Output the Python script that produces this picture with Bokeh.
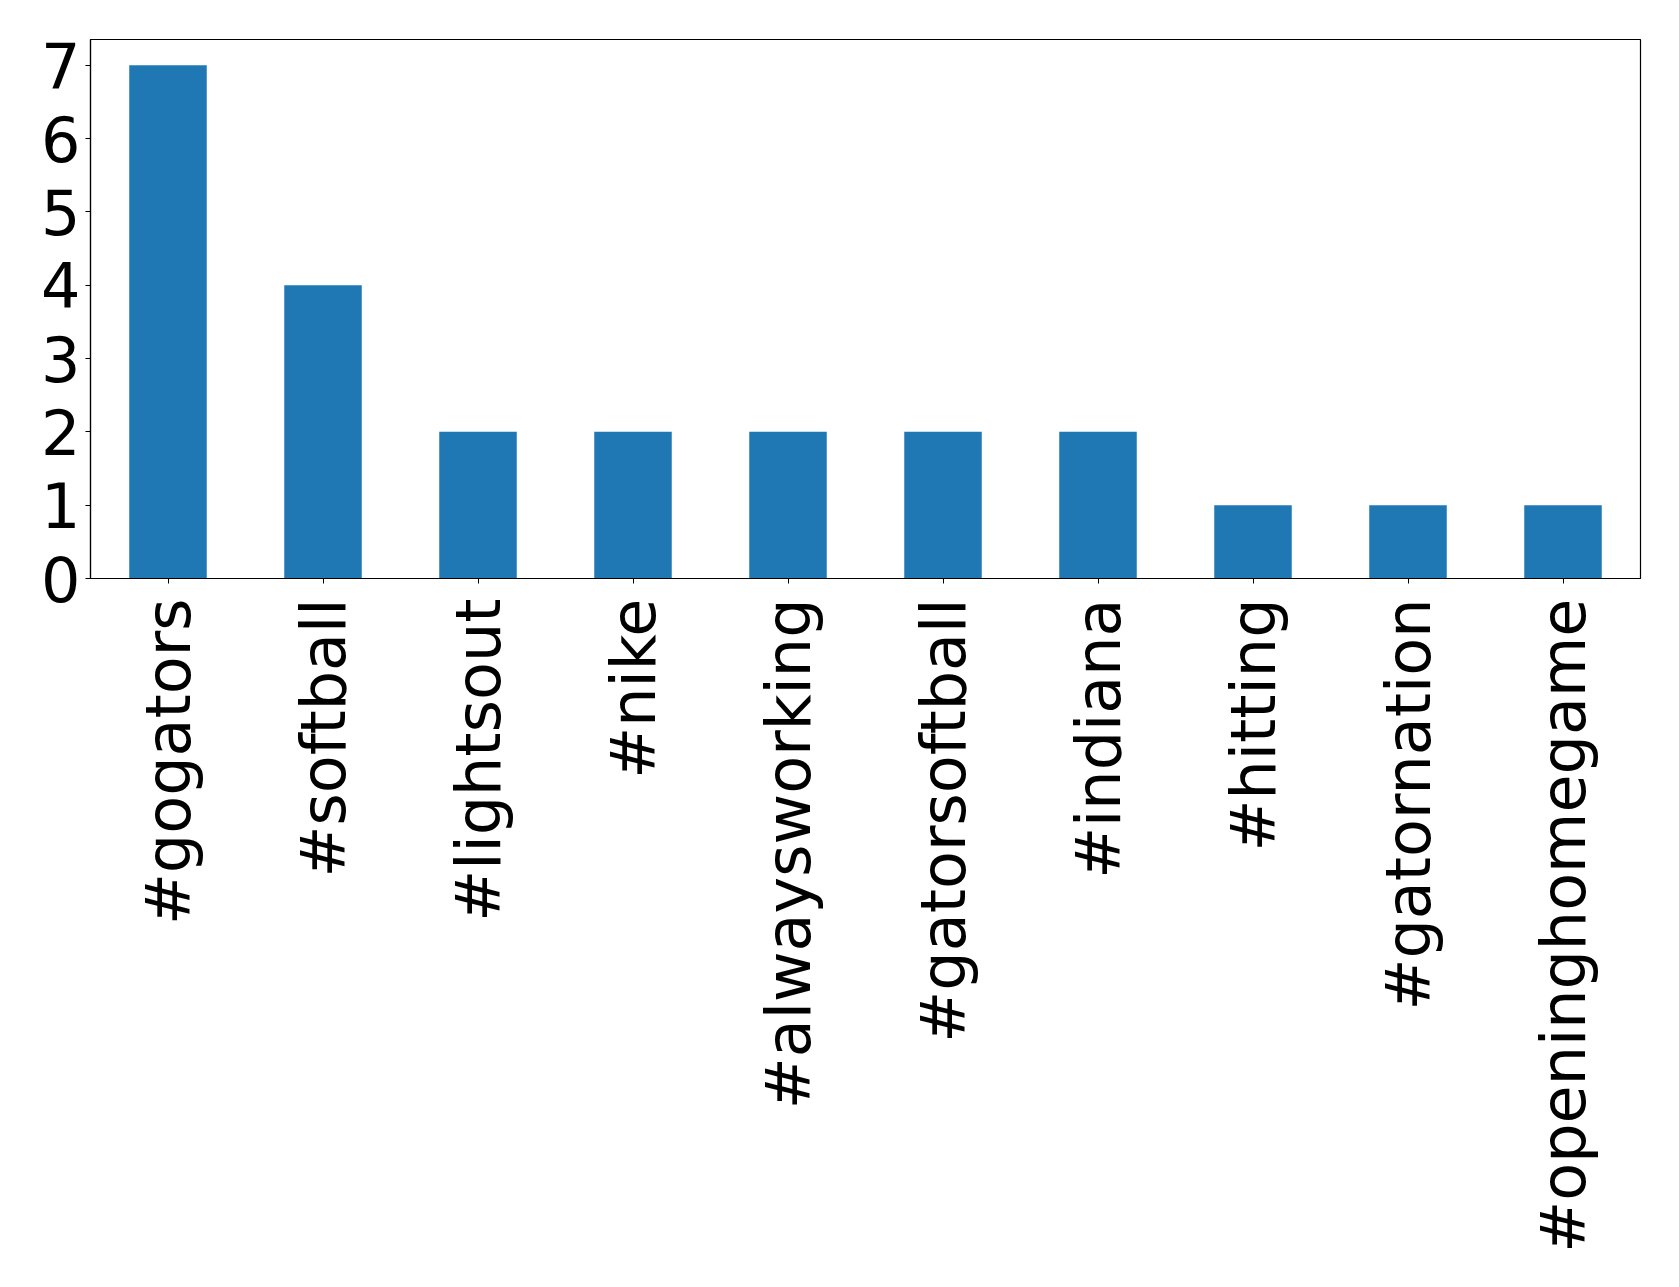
import math
from bokeh.plotting import figure
from bokeh.models import Range1d, FixedTicker, ColumnDataSource
from bokeh.embed import file_html
from bokeh.resources import INLINE

hashtags = ["#gogators", "#softball", "#lightsout", "#nike", "#alwaysworking",
            "#gatorsoftball", "#indiana", "#hitting", "#gatornation", "#openinghomegame"]
counts = [7, 4, 2, 2, 2, 2, 2, 1, 1, 1]
y_ticks = [0, 1, 2, 3, 4, 5, 6, 7]

src = ColumnDataSource(dict(tag=hashtags, count=counts))

p = figure(x_range=hashtags, y_range=Range1d(0, 7.35),
           width=1679, height=1287, output_backend="svg", toolbar_location=None,
           min_border_left=90, min_border_right=39, min_border_top=39, min_border_bottom=709)
p.vbar(x="tag", top="count", width=0.5, source=src, color="#1f77b4", line_color=None)

p.xgrid.visible = False
p.ygrid.visible = False
p.outline_line_color = "black"
p.outline_line_width = 1.2
p.background_fill_color = "white"
p.border_fill_color = "white"

p.yaxis.ticker = FixedTicker(ticks=y_ticks)
for ax in (p.xaxis, p.yaxis):
    ax.major_label_text_font = "DejaVu Sans"
    ax.major_label_text_font_size = "62px"
    ax.major_label_text_color = "black"
    ax.axis_line_color = "black"
    ax.axis_line_width = 1.2
    ax.major_tick_line_color = "black"
    ax.major_tick_out = 5
    ax.major_tick_in = 0
    ax.minor_tick_line_color = None
    ax.major_label_standoff = 5
p.xaxis.major_label_standoff = 15
p.xaxis.major_label_orientation = math.pi / 2
p.x_range.range_padding = 0
p.x_range.group_padding = 0
p.x_range.factor_padding = 0

open("out.html", "w").write(file_html(p, INLINE))
